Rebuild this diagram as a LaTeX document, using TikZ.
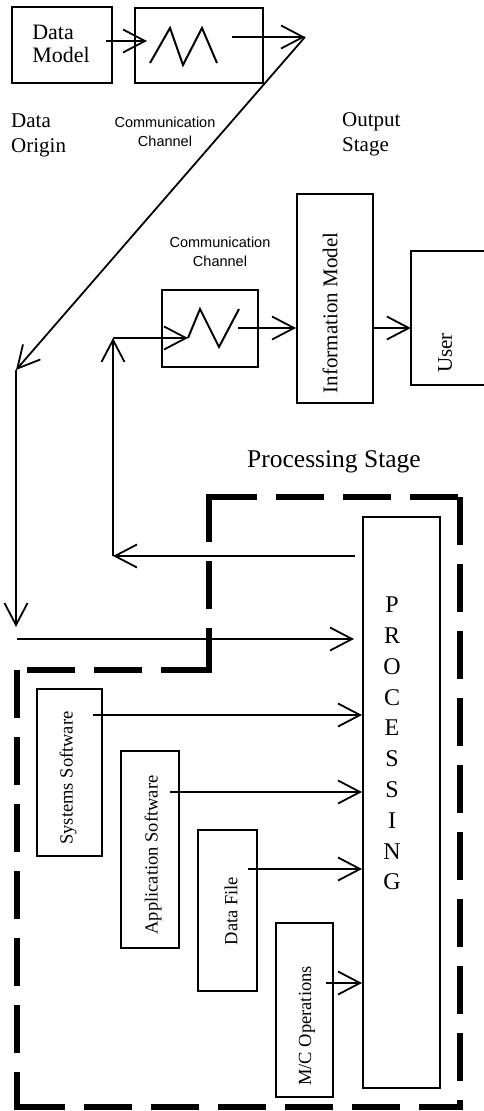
\documentclass[tikz,border=0pt]{standalone}
\usepackage{fontspec}
\setmainfont{Liberation Serif}
\newfontfamily\labelsans{Liberation Sans}
\usetikzlibrary{arrows.meta}
\newcommand\myfs[2]{\fontsize{#1}{#2}\selectfont}
\tikzset{
  box/.style={draw, line width=2pt, inner sep=0pt, minimum width=#1},
  arr/.style={line width=1.8pt, -{Straight Barb[length=22pt,width=23pt,line width=1.8pt]}},
  zig/.style={line width=2pt, line join=miter},
  bound/.style={line width=5.5pt, dash pattern=on 48pt off 19pt},
  rottext/.style={rotate=90, inner sep=0pt, font=\myfs{18.5}{20}},
  chan/.style={font=\labelsans\myfs{14.5}{19}, align=center, inner sep=0pt},
  serif/.style={align=left, inner sep=0pt}
}
\begin{document}
\begin{tikzpicture}[x=1pt,y=-1pt]
\useasboundingbox (0,0) rectangle (484,1111);

% ---- top row ----
\node[box=100pt, minimum height=76pt] (dm) at (62,45) {};
\node[serif, font=\myfs{22}{23}] (dmtext) at (61,44) {Data\\Model};
\node[box=128pt, minimum height=75pt] (cc1) at (199,45.5) {};
\draw[zig] (150,63) -- (170,28) -- (183,65) -- (202,28) -- (217,63);

\node[serif, font=\myfs{21}{25}, anchor=west] (origin) at (11,135) {Data\\Origin};
\node[chan] (chan1) at (165,132) {Communication\\Channel};
\node[serif, font=\myfs{21}{25}, anchor=west] (output) at (342,134) {Output\\Stage};

% ---- middle row ----
\node[chan] (chan2) at (220,252) {Communication\\Channel};
\node[box=96pt, minimum height=77pt] (cc2) at (210,328.5) {};
\node[box=76pt, minimum height=209pt] (im) at (335,298.5) {};
\node[rotate=90, inner sep=0pt, font=\myfs{21}{23}] (imtext) at (330,313) {Information Model};
\node[inner sep=0pt, minimum width=75pt, minimum height=134pt] (user) at (448.5,318) {};
\draw[line width=2pt] (user.north east) -- (user.north west) -- (user.south west) -- (user.south east);
\node[rotate=90, inner sep=0pt, font=\myfs{21}{23}] (usertext) at (445,353) {User};

\node[inner sep=0pt, font=\myfs{25.5}{27}] (pstage) at (334,462) {Processing Stage};

% ---- processing stage ----
\node[box=77pt, minimum height=571pt] (proc) at (401.5,802.5) {};
\node[inner sep=0pt, align=center, font=\myfs{24}{30.8}] (proctext) at (392,743.5)
  {P\\R\\O\\C\\E\\S\\S\\I\\N\\G};

\node[box=65pt, minimum height=167pt] (ss) at (69.5,772.5) {};
\node[rottext] (sstext) at (68,778) {Systems Software};
\node[box=58pt, minimum height=197pt] (as) at (150,849.5) {};
\node[rottext] (astext) at (153,855) {Application Software};
\node[box=59pt, minimum height=161pt] (df) at (227.5,910.5) {};
\node[rottext] (dftext) at (231,911) {Data File};
\node[box=57pt, minimum height=174pt] (mc) at (304.5,1010) {};
\node[rottext] (mctext) at (307,1026) {M/C Operations};

% dashed boundary
\draw[bound] (209,497) -- (460,497);
\draw[bound] (460,497) -- (460,1107);
\draw[bound] (17,1107) -- (462.75,1107);
\draw[bound] (17,670) -- (17,1109.75);
\draw[bound] (209,670) -- (17,670);
\draw[bound] (209,494.25) -- (209,672.75);

% ---- connectors ----
\coordinate (a1s) at (106,41);
\coordinate (a1e) at (147,41);
\draw[arr] (a1s) -- (a1e);

\coordinate (c1o) at (232,37);
\coordinate (t1) at (305,37);
\coordinate (t2) at (16,370);
\coordinate (t3) at (16,627);
\draw[arr] (c1o) -- (t1);
\draw[arr] (t1) -- (t2);
\draw[arr] (t2) -- (t3);

\coordinate (h1) at (17,639);
\draw[arr] (h1) -- ([xshift=-8pt]proc.west |- h1);

\coordinate (r1) at (355,556);
\coordinate (r2) at (113,556);
\coordinate (r3) at (113,338);
\coordinate (z0) at (188,338);
\draw[arr] (r1) -- (r2);
\draw[arr] (r2) -- (r3);
\draw[arr] (r3) -- (z0);
\draw[zig] (z0) -- (200,309) -- (219,347) -- (239,309);

\coordinate (c2o) at (238,328);
\draw[arr] (c2o) -- (c2o -| im.west);
\coordinate (imo) at (373,328);
\draw[arr] (imo) -- (imo -| user.west);

\coordinate (sso) at (93,715);
\draw[arr] (sso) -- (sso -| proc.west);
\coordinate (aso) at (170,792);
\draw[arr] (aso) -- (aso -| proc.west);
\coordinate (dfo) at (248,869);
\draw[arr] (dfo) -- (dfo -| proc.west);
\coordinate (mco) at (326,983);
\draw[arr] (mco) -- (mco -| proc.west);
\end{tikzpicture}
\end{document}
